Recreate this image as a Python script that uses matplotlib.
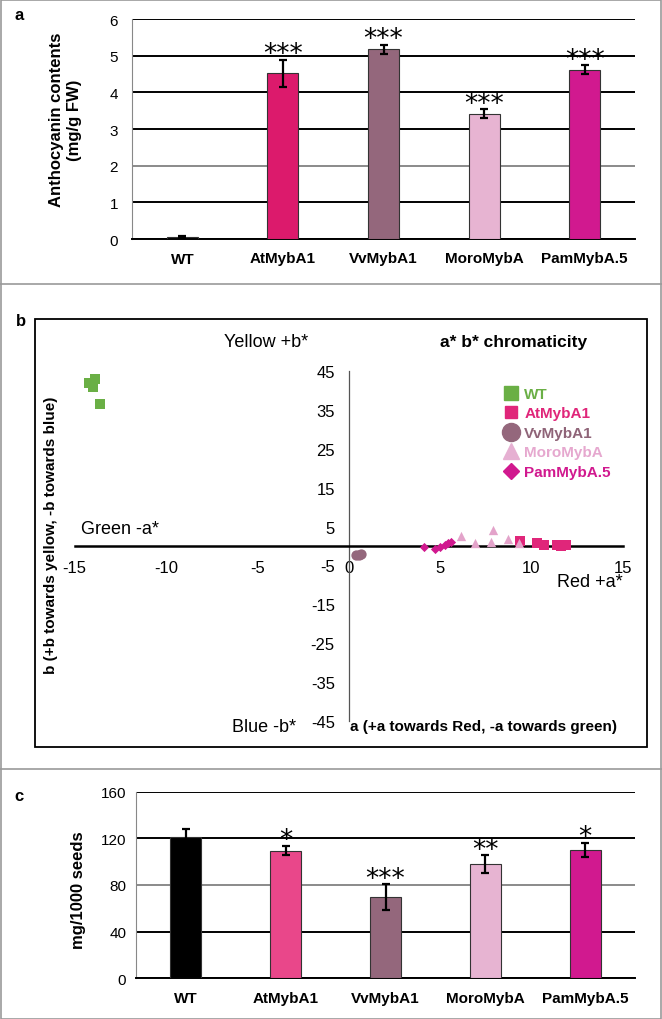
import matplotlib
matplotlib.use("Agg")
import matplotlib.pyplot as plt
from matplotlib.patches import Rectangle
from matplotlib.lines import Line2D

NARROW = ["Liberation Sans Narrow", "Liberation Sans", "DejaVu Sans"]
plt.rcParams["font.family"] = ["Liberation Sans", "DejaVu Sans"]
plt.rcParams["axes.unicode_minus"] = False

# ---- data ----
genotypes = ["WT", "AtMybA1", "VvMybA1", "MoroMybA", "PamMybA.5"]

antho = [0.05, 4.52, 5.17, 3.42, 4.62]
antho_err = [0.03, 0.37, 0.13, 0.12, 0.12]
antho_sig = ["", "***", "***", "***", "***"]

seed_wt = [121, 109.5, 69.5, 97.8, 110]
seed_err = [7, 4, 11, 7.8, 6.2]
seed_sig = ["", "*", "***", "**", "*"]

wt_a = [-14.2, -13.9, -14.0, -13.6]
wt_b = [42.0, 43.0, 41.0, 36.6]
at_a = [9.4, 10.3, 10.7, 11.4, 11.6, 11.9]
at_b = [1.3, 0.8, 0.3, 0.3, 0.0, 0.3]
vv_a = [0.4, 0.55, 0.7]
vv_b = [-2.2, -2.2, -2.1]
moro_a = [6.15, 6.9, 7.9, 7.8, 8.7, 9.3]
moro_b = [2.6, 0.9, 4.1, 1.0, 1.7, 0.9]
pam_a = [4.1, 4.7, 5.0, 5.25, 5.45, 5.6]
pam_b = [-0.3, -0.8, -0.2, 0.3, 0.7, 1.0]

col_a = ["black", "#dc1a6c", "#94677c", "#e7b4d2", "#d1198f"]
col_c = ["black", "#e9478a", "#94677c", "#e7b4d2", "#d1198f"]

W, H = 662, 1020
fig = plt.figure(figsize=(W / 100, H / 100), dpi=100)


def fx(px):
    return px / W


def fy(py):
    return 1 - py / H


def bar_panel(ax, vals, errs, sigs, colors, ymax, step, pad):
    x = range(len(genotypes))
    ax.bar(x, vals, width=0.31, color=colors, edgecolor="#333333", linewidth=0.8, zorder=3)
    ax.errorbar(x, vals, yerr=errs, fmt="none", ecolor="black", elinewidth=1.6,
                capsize=3, capthick=1.6, zorder=4)
    for i, s in enumerate(sigs):
        if s:
            ax.annotate(s, xy=(i, vals[i] + errs[i]), xytext=(0, 4), textcoords="offset points",
                        ha="center", va="center", fontsize=19, family="DejaVu Sans")
    ax.set_xlim(-0.5, 4.5)
    ax.set_ylim(0, ymax)
    ax.set_yticks(range(0, ymax + 1, step))
    ax.set_xticks(list(x))
    ax.set_xticklabels(genotypes, fontsize=11, fontweight="bold")
    for lab in ax.get_yticklabels():
        lab.set_family(NARROW)
        lab.set_fontsize(11)
    ax.tick_params(axis="both", length=0)
    ax.tick_params(axis="x", pad=9)
    ax.tick_params(axis="y", pad=pad)
    ax.yaxis.grid(True, color="black", linewidth=1.4)
    ax.set_axisbelow(True)
    for s in ["top", "right"]:
        ax.spines[s].set_visible(False)
    ax.spines["left"].set_color("#888888")
    ax.spines["left"].set_linewidth(0.8)
    ax.spines["bottom"].set_color("black")
    ax.spines["bottom"].set_linewidth(1.4)


# ---- panel a ----
ax_a = fig.add_axes([fx(132), fy(240), fx(635) - fx(132), fy(20) - fy(240)])
bar_panel(ax_a, antho, antho_err, antho_sig, col_a, 6, 1, 10)
ax_a.get_ygridlines()[2].set_color("#8a8a8a")
fig.text(fx(66), fy(120), "Anthocyanin contents\n(mg/g FW)", rotation=90, ha="center",
         va="center", fontsize=12, fontweight="bold", linespacing=1.25)

# ---- panel c ----
ax_c = fig.add_axes([fx(136), fy(979.3), fx(635) - fx(136), fy(792.7) - fy(979.3)])
bar_panel(ax_c, seed_wt, seed_err, seed_sig, col_c, 160, 40, 7)
ax_c.get_ygridlines()[2].set_color("#8a8a8a")
fig.text(fx(78), fy(890), "mg/1000 seeds", rotation=90, ha="center", va="center",
         fontsize=12, fontweight="bold")

# ---- panel b ----
ax_b = fig.add_axes([fx(35), fy(748), fx(647) - fx(35), fy(320) - fy(748)])
ax_b.set_xlim(-17.17, 16.33)
ax_b.set_ylim(-51.7, 58.4)
ax_b.spines["top"].set_visible(False)
ax_b.spines["right"].set_visible(False)
ax_b.spines["left"].set_position(("data", 0))
ax_b.spines["left"].set_bounds(-45, 45)
ax_b.spines["left"].set_color("#555555")
ax_b.spines["left"].set_linewidth(0.9)
ax_b.spines["bottom"].set_position(("data", 0))
ax_b.spines["bottom"].set_bounds(-15, 15)
ax_b.spines["bottom"].set_color("black")
ax_b.spines["bottom"].set_linewidth(1.8)
ax_b.add_patch(Rectangle((0, 0), 1, 1, transform=ax_b.transAxes, fill=False,
                         edgecolor="black", linewidth=1.3, clip_on=False))
ax_b.set_xticks(range(-15, 16, 5))
ax_b.set_yticks(range(-45, 46, 10))
ax_b.tick_params(axis="both", length=0, pad=10, labelsize=12)
for lab in ax_b.get_xticklabels() + ax_b.get_yticklabels():
    lab.set_family(NARROW)

ax_b.scatter(wt_a, wt_b, marker="s", s=60, color="#6aaf45", label="WT", zorder=5, linewidths=0)
ax_b.scatter(at_a, at_b, marker="s", s=45, color="#e0267a", label="AtMybA1", zorder=5, linewidths=0)
ax_b.scatter(vv_a, vv_b, marker="o", s=55, color="#94677c", label="VvMybA1", zorder=5, linewidths=0)
ax_b.scatter(moro_a, moro_b, marker="^", s=45, color="#e3a3ca", label="MoroMybA", zorder=5, linewidths=0)
ax_b.scatter(pam_a, pam_b, marker="D", s=22, color="#d1198f", label="PamMybA.5", zorder=5, linewidths=0)

handles = [
    Line2D([], [], ls="none", marker="s", ms=10, color="#6aaf45"),
    Line2D([], [], ls="none", marker="s", ms=9, color="#e0267a"),
    Line2D([], [], ls="none", marker="o", ms=13, color="#94677c"),
    Line2D([], [], ls="none", marker="^", ms=11, color="#e6b0d2"),
    Line2D([], [], ls="none", marker="D", ms=8, color="#d1198f"),
]
leg = ax_b.legend(handles, genotypes, loc="upper left", bbox_to_anchor=(fx(503), fy(388)),
                  bbox_transform=fig.transFigure, frameon=False, borderpad=0, borderaxespad=0,
                  handlelength=1.0, handletextpad=0.4, labelspacing=0.36,
                  prop={"weight": "bold", "size": 11},
                  labelcolor=["#6aaf45", "#e0267a", "#8f6478", "#e6a8cf", "#d1198f"])

ax_b.text(-4.5, 52.7, "Yellow +b*", ha="center", va="center", fontsize=13, family=NARROW)
ax_b.text(9.0, 52.7, "a* b* chromaticity", ha="center", va="center", fontsize=12.5,
          fontweight="bold")
ax_b.text(-14.65, 4.4, "Green -a*", ha="left", va="center", fontsize=13, family=NARROW)
ax_b.text(15.0, -9.0, "Red +a*", ha="right", va="center", fontsize=13, family=NARROW)
ax_b.text(-2.9, -46.5, "Blue -b*", ha="right", va="center", fontsize=13, family=NARROW)
ax_b.text(0.1, -46.3, "a (+a towards Red, -a towards green)", ha="left", va="center",
          fontsize=11, fontweight="bold")
fig.text(fx(51), fy(535), "b (+b towards yellow, -b towards blue)", rotation=90, ha="center",
         va="center", fontsize=11, fontweight="bold")

# ---- panel letters and frames ----
for letter, px, py in [("a", 19, 15), ("b", 21, 322), ("c", 19, 797)]:
    fig.text(fx(px), fy(py), letter, ha="center", va="center", fontsize=12, fontweight="bold")

fig.add_artist(Rectangle((0.5 / W, 0.5 / H), 1 - 1.5 / W, 1 - 1.5 / H, transform=fig.transFigure,
                         fill=False, edgecolor="#9a9a9a", linewidth=1.2))
for py in [285, 770]:
    fig.add_artist(Line2D([0, 1], [fy(py), fy(py)], transform=fig.transFigure,
                          color="#9a9a9a", linewidth=1.2))

fig.savefig("out.png", dpi=100)
